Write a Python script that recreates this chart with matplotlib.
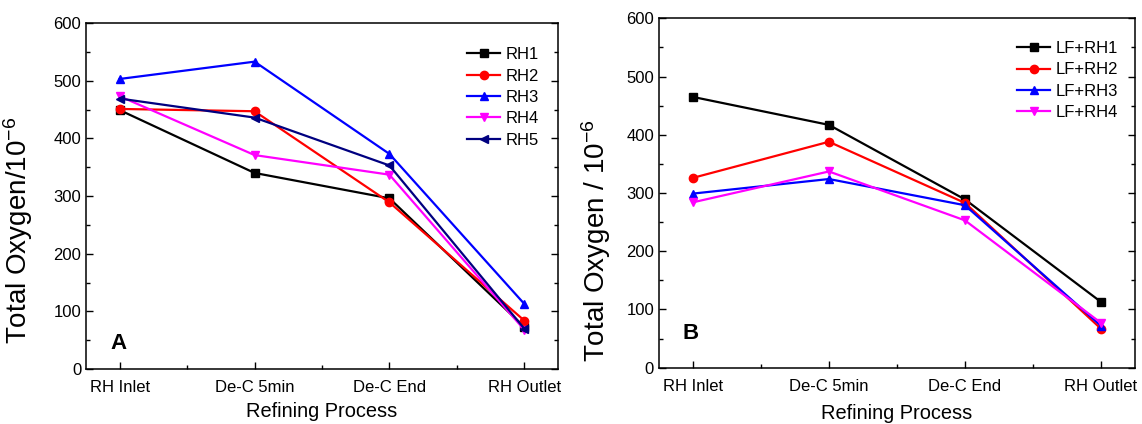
import matplotlib
matplotlib.use("Agg")
import matplotlib.pyplot as plt
from matplotlib.ticker import MultipleLocator

# datos
etapas = ["RH Inlet", "De-C 5min", "De-C End", "RH Outlet"]

series_a = ["RH1", "RH2", "RH3", "RH4", "RH5"]
rh1 = [449, 340, 296, 73]
rh2 = [451, 447, 289, 84]
rh3 = [503, 533, 373, 113]
rh4 = [473, 371, 337, 68]
rh5 = [469, 436, 353, 70]

series_b = ["LF+RH1", "LF+RH2", "LF+RH3", "LF+RH4"]
lf_rh1 = [465, 417, 289, 113]
lf_rh2 = [326, 388, 283, 67]
lf_rh3 = [299, 324, 279, 72]
lf_rh4 = [284, 337, 253, 77]

plt.rcParams['font.family'] = ['Liberation Sans', 'DejaVu Sans']
plt.rcParams['mathtext.fontset'] = 'custom'
plt.rcParams['mathtext.rm'] = 'Liberation Sans'
plt.rcParams['mathtext.it'] = 'Liberation Sans:italic'

colores = ["black", "#ff0000", "#0000ff", "#ff00ff", "#000080"]
marcadores = ["s", "o", "^", "v", "<"]

fig = plt.figure(figsize=(11.42, 4.24), dpi=100)
ax_a = fig.add_axes([0.0753, 0.1297, 0.4133, 0.816])
ax_b = fig.add_axes([0.577, 0.1328, 0.4168, 0.824])


def dibujar(ax, nombres, datos, letra, ylabel, ancla, pos_letra, pos_ylabel, pad_x):
    x = list(range(len(etapas)))
    for i, (nombre, valores) in enumerate(zip(nombres, datos)):
        ax.plot(x, valores, color=colores[i], marker=marcadores[i],
                markersize=6, linewidth=1.6, label=nombre)
    ax.set_xlim(-0.25, 3.25)
    ax.set_ylim(0, 600)
    ax.set_xticks(x)
    ax.set_xticklabels(etapas)
    ax.xaxis.set_minor_locator(MultipleLocator(0.5))
    ax.yaxis.set_major_locator(MultipleLocator(100))
    ax.yaxis.set_minor_locator(MultipleLocator(50))
    ax.tick_params(which='both', direction='in', right=True, top=False,
                   labelsize=12, width=1.0)
    ax.tick_params(axis='x', which='major', pad=8)
    ax.tick_params(which='major', length=5)
    ax.tick_params(which='minor', length=3)
    for sp in ax.spines.values():
        sp.set_linewidth(1.1)
    ax.set_xlabel("Refining Process", fontsize=14.4, labelpad=pad_x)
    ax.set_ylabel(ylabel, fontsize=20)
    ax.yaxis.set_label_coords(pos_ylabel[0], pos_ylabel[1])  # etiqueta algo desplazada hacia abajo
    ax.text(pos_letra[0], pos_letra[1], letra, transform=ax.transAxes,
            fontsize=16, fontweight='bold', ha='center', va='center')
    ax.legend(loc='upper left', bbox_to_anchor=ancla, frameon=False,
              fontsize=12, handlelength=2.0, handletextpad=0.3,
              labelspacing=0.38, borderpad=0, borderaxespad=0)


dibujar(ax_a, series_a, [rh1, rh2, rh3, rh4, rh5], "A",
        "Total Oxygen/10$^{-6}$", (0.807, 0.93), (0.068, 0.075), (-0.108, 0.40), 5)
dibujar(ax_b, series_b, [lf_rh1, lf_rh2, lf_rh3, lf_rh4], "B",
        "Total Oxygen / 10$^{-6}$", (0.752, 0.935), (0.067, 0.099), (-0.096, 0.365), 7)

fig.savefig("out.png", dpi=100)
